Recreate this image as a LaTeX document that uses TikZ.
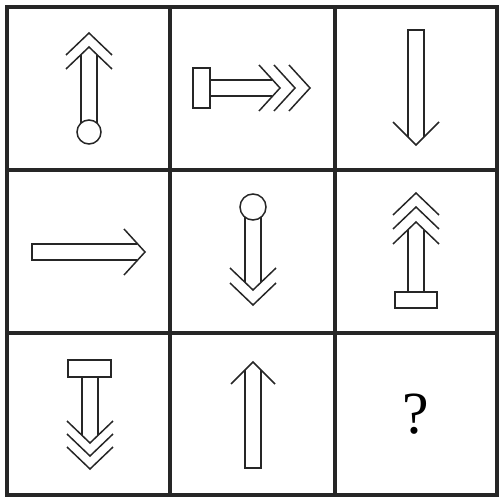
\documentclass[tikz,border=0pt]{standalone}
\usepackage{fontspec}
\setmainfont{Liberation Serif}
\begin{document}
\begin{tikzpicture}[x=0.02cm,y=-0.02cm,
  gridline/.style={line width=1.9pt,black!85},
  fig/.style={line width=0.85pt,black!85,line join=miter},
  capfill/.style={fig,fill=white}]
\useasboundingbox (0,0) rectangle (499,499);
% grid
\draw[gridline] (7,7) rectangle (497,495);
\draw[gridline] (170,7) -- (170,495);
\draw[gridline] (335,7) -- (335,495);
\draw[gridline] (7,170) -- (497,170);
\draw[gridline] (7,333) -- (497,333);

% cell 1: up, circle base, double chevron
\draw[fig] (81,55) -- (81,132) (97,55) -- (97,132);
\draw[capfill] (89,132) circle (12);
\draw[fig] (66,55) -- (89,33) -- (112,55);
\draw[fig] (66,69) -- (89,47) -- (112,69);

% cell 2: right, rectangle base, triple chevron
\draw[fig] (210,80) -- (272,80) (210,96) -- (272,96);
\draw[capfill] (193,68) rectangle (210,108);
\draw[fig] (259,65) -- (280,88) -- (259,111);
\draw[fig] (274,65) -- (295,88) -- (274,111);
\draw[fig] (289,65) -- (310,88) -- (289,111);

% cell 3: down, single chevron
\draw[fig] (408,137) -- (408,30) -- (424,30) -- (424,137);
\draw[fig] (393,122) -- (416,145) -- (439,122);

% cell 4: right, single chevron
\draw[fig] (137,244) -- (32,244) -- (32,260) -- (137,260);
\draw[fig] (124,229) -- (145,252) -- (124,275);

% cell 5: down, circle top, double chevron
\draw[fig] (245,207) -- (245,282) (261,207) -- (261,282);
\draw[capfill] (253,207) circle (13);
\draw[fig] (230,268) -- (253,290) -- (276,268);
\draw[fig] (230,283) -- (253,305) -- (276,283);

% cell 6: up, rectangle base, triple chevron
\draw[fig] (408,230) -- (408,292) (424,230) -- (424,292);
\draw[capfill] (395,292) rectangle (437,308);
\draw[fig] (393,215) -- (416,193) -- (439,215);
\draw[fig] (393,229) -- (416,207) -- (439,229);
\draw[fig] (393,244) -- (416,222) -- (439,244);

% cell 7: down, rectangle top, triple chevron
\draw[fig] (82,377) -- (82,435) (98,377) -- (98,435);
\draw[capfill] (68,360) rectangle (111,377);
\draw[fig] (67,421) -- (90,443) -- (113,421);
\draw[fig] (67,434) -- (90,456) -- (113,434);
\draw[fig] (67,447) -- (90,469) -- (113,447);

% cell 8: up, single chevron
\draw[fig] (245,370) -- (245,468) -- (261,468) -- (261,370);
\draw[fig] (231,384) -- (253,362) -- (275,384);

% cell 9
\node (q) at (416,414) {\fontsize{34}{38}\selectfont ?};
\end{tikzpicture}
\end{document}
